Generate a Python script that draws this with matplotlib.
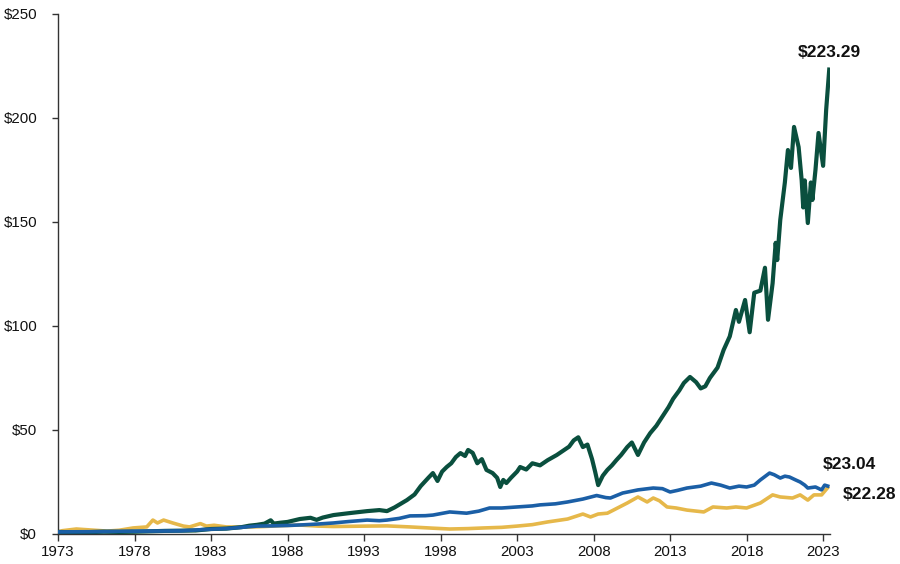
import matplotlib
matplotlib.use("Agg")
import matplotlib.pyplot as plt
from matplotlib.ticker import FuncFormatter, FixedLocator

plt.rcParams['font.family'] = ['Liberation Sans', 'DejaVu Sans']

# ---- data ----
stock_years = [1973.0, 1974.0, 1975.0, 1976.0, 1977.0, 1978.0, 1979.0, 1980.0, 1981.0, 1982.0,
               1983.0, 1984.0, 1985.0, 1985.5, 1986.0, 1986.5, 1986.9, 1987.1, 1987.5, 1988.0,
               1988.8, 1989.5, 1989.9, 1990.3, 1991.0, 1992.0, 1993.2, 1994.0, 1994.5, 1995.0,
               1995.8, 1996.3, 1996.7, 1997.2, 1997.5, 1997.8, 1998.1, 1998.4, 1998.7, 1999.0,
               1999.3, 1999.6, 1999.8, 2000.1, 2000.4, 2000.7, 2001.0, 2001.4, 2001.7, 2001.9,
               2002.1, 2002.3, 2002.6, 2003.0, 2003.2, 2003.6, 2004.0, 2004.5, 2005.0, 2005.6,
               2006.0, 2006.4, 2006.7, 2007.0, 2007.3, 2007.6, 2007.9, 2008.1, 2008.3, 2008.6,
               2008.9, 2009.2, 2009.5, 2009.8, 2010.2, 2010.5, 2010.9, 2011.3, 2011.7, 2012.1,
               2012.5, 2012.9, 2013.2, 2013.6, 2013.9, 2014.3, 2014.7, 2015.0, 2015.3, 2015.6,
               2016.1, 2016.5, 2016.9, 2017.3, 2017.5, 2017.9, 2018.2, 2018.5, 2018.9, 2019.2,
               2019.4, 2019.7, 2019.9, 2020.0, 2020.2, 2020.5, 2020.7, 2020.9, 2021.1, 2021.4,
               2021.6, 2021.7, 2021.8, 2022.0, 2022.2, 2022.3, 2022.5, 2022.7, 2023.0, 2023.2,
               2023.4]
stock_values = [1.0, 0.8, 0.9, 1.1, 1.0, 1.1, 1.3, 1.5, 1.6, 1.7,
                2.4, 2.6, 3.3, 4.0, 4.4, 5.0, 6.6, 5.0, 5.4, 5.8,
                7.2, 7.8, 6.8, 7.9, 9.1, 10.0, 11.0, 11.5, 11.0, 12.8,
                16.3, 19.0, 23.0, 27.0, 29.3, 25.5, 30.0, 32.2, 34.0, 37.0,
                38.9, 37.5, 40.4, 39.0, 34.0, 36.0, 30.8, 29.3, 27.0, 22.6,
                26.0, 24.5, 27.0, 30.0, 32.2, 31.0, 34.0, 33.0, 35.5, 38.0,
                40.0, 42.0, 45.0, 46.5, 41.8, 43.0, 36.0, 30.0, 23.5, 28.0,
                30.8, 33.0, 35.6, 38.0, 41.8, 44.0, 38.0, 44.0, 48.5, 52.0,
                56.5, 61.0, 65.0, 69.0, 72.6, 75.5, 73.0, 70.0, 71.0, 75.0,
                80.0, 88.5, 95.0, 107.7, 102.0, 112.5, 97.0, 116.0, 117.0, 128.0,
                103.0, 120.6, 140.0, 131.7, 151.0, 169.0, 184.6, 176.0, 195.7, 186.0,
                170.0, 157.0, 170.0, 149.5, 169.0, 160.6, 175.0, 192.8, 177.0, 204.0,
                223.29]

bond_years = [1973.0, 1975.0, 1977.0, 1979.0, 1981.0, 1982.0, 1983.0, 1984.0, 1985.0, 1986.0,
              1987.0, 1988.0, 1989.0, 1990.0, 1991.0, 1992.0, 1993.2, 1994.0, 1994.5, 1995.3,
              1996.0, 1997.0, 1997.5, 1998.6, 1999.7, 2000.5, 2001.2, 2002.0, 2003.0, 2004.0,
              2004.5, 2005.5, 2006.3, 2007.3, 2008.2, 2008.8, 2009.1, 2009.9, 2010.9, 2011.9,
              2012.5, 2013.0, 2013.5, 2014.1, 2015.0, 2015.7, 2016.3, 2016.9, 2017.5, 2018.0,
              2018.5, 2018.9, 2019.5, 2019.8, 2020.2, 2020.5, 2020.8, 2021.2, 2021.5, 2021.8,
              2022.0, 2022.5, 2022.9, 2023.1, 2023.3]
bond_values = [1.0, 1.1, 1.3, 1.4, 1.5, 1.9, 2.3, 2.6, 3.2, 3.8,
               3.9, 4.1, 4.4, 4.8, 5.3, 6.0, 6.7, 6.4, 6.7, 7.5,
               8.7, 8.8, 9.1, 10.6, 10.0, 11.0, 12.5, 12.5, 13.0, 13.5,
               14.0, 14.5, 15.4, 16.8, 18.5, 17.5, 17.3, 19.7, 21.2, 22.1,
               21.8, 20.2, 21.0, 22.1, 23.0, 24.5, 23.5, 22.1, 23.0, 22.6,
               23.5, 26.0, 29.3, 28.5, 26.9, 27.8, 27.4, 26.0, 25.0, 23.5,
               22.1, 22.6, 21.2, 23.5, 23.04]

gold_years = [1973.0, 1973.3, 1974.2, 1975.0, 1976.2, 1977.0, 1977.9, 1978.8, 1979.2, 1979.5,
              1979.9, 1980.5, 1981.2, 1981.6, 1982.3, 1982.7, 1983.2, 1984.0, 1985.4, 1986.5,
              1987.5, 1988.8, 1990.0, 1991.0, 1993.2, 1994.5, 1996.0, 1997.5, 1998.6, 1999.8,
              2000.8, 2002.0, 2003.0, 2004.0, 2005.0, 2006.3, 2007.3, 2007.8, 2008.3, 2008.9,
              2009.3, 2010.2, 2010.9, 2011.5, 2011.9, 2012.3, 2012.8, 2013.4, 2014.1, 2015.2,
              2015.8, 2016.7, 2017.3, 2018.0, 2018.9, 2019.7, 2020.2, 2021.0, 2021.5, 2022.0,
              2022.4, 2022.9, 2023.3]
gold_values = [1.0, 1.6, 2.4, 2.0, 1.4, 1.8, 2.9, 3.4, 6.7, 5.3,
               6.7, 5.3, 3.8, 3.4, 5.0, 3.8, 4.2, 3.4, 3.3, 3.6,
               4.0, 4.3, 3.8, 3.6, 3.8, 3.9, 3.4, 2.8, 2.4, 2.6,
               2.9, 3.2, 3.8, 4.5, 5.8, 7.2, 9.6, 8.2, 9.6, 10.0,
               11.5, 14.9, 17.8, 15.4, 17.3, 16.0, 13.0, 12.5, 11.5, 10.6,
               13.0, 12.5, 13.0, 12.5, 14.9, 18.8, 17.8, 17.3, 18.8, 16.3,
               18.8, 18.8, 22.28]

x_ticks = [1973, 1978, 1983, 1988, 1993, 1998, 2003, 2008, 2013, 2018, 2023]
y_ticks = [0, 50, 100, 150, 200, 250]

end_labels = ["$223.29", "$23.04", "$22.28"]

# ---- styling ----
GREEN = "#0a4f3e"
BLUE = "#1b5fa6"
GOLD = "#e6b84a"

fig = plt.figure(figsize=(9.0, 5.64), dpi=100)
ax = fig.add_axes([58 / 900, 30 / 564, (830 - 58) / 900, 520 / 564])

ax.plot(gold_years, gold_values, color=GOLD, lw=2.6, solid_joinstyle='round', zorder=2)
ax.plot(stock_years, stock_values, color=GREEN, lw=3.0, solid_joinstyle='round', zorder=3)
ax.plot(bond_years, bond_values, color=BLUE, lw=2.6, solid_joinstyle='round', zorder=4)

ax.set_xlim(1973, 2023.45)
ax.set_ylim(0, 250)
ax.xaxis.set_major_locator(FixedLocator(x_ticks))
ax.yaxis.set_major_locator(FixedLocator(y_ticks))
ax.yaxis.set_major_formatter(FuncFormatter(lambda v, p: f"${int(v)}"))

for s in ['top', 'right']:
    ax.spines[s].set_visible(False)
for s in ['left', 'bottom']:
    ax.spines[s].set_color('#333333')
    ax.spines[s].set_linewidth(1.0)

ax.tick_params(axis='y', direction='out', length=4, width=1, color='#333333',
               labelsize=10.8, pad=11, labelcolor='#111111')
ax.tick_params(axis='x', direction='out', length=5, width=1, color='#333333',
               labelsize=10.8, pad=3, labelcolor='#111111')

# end-value labels
ax.annotate(end_labels[0], xy=(stock_years[-1], stock_values[-1]), xytext=(2023.4, 231.5),
            textcoords='data', ha='center', va='center', fontsize=12.5,
            fontweight='bold', color='#111111', annotation_clip=False)
ax.annotate(end_labels[1], xy=(bond_years[-1], bond_values[-1]), xytext=(2023.0, 33.5),
            textcoords='data', ha='left', va='center', fontsize=12.5,
            fontweight='bold', color='#111111', annotation_clip=False)
ax.annotate(end_labels[2], xy=(gold_years[-1], gold_values[-1]), xytext=(2024.3, 19.2),
            textcoords='data', ha='left', va='center', fontsize=12.5,
            fontweight='bold', color='#111111', annotation_clip=False)

fig.savefig("out.png", dpi=100)
